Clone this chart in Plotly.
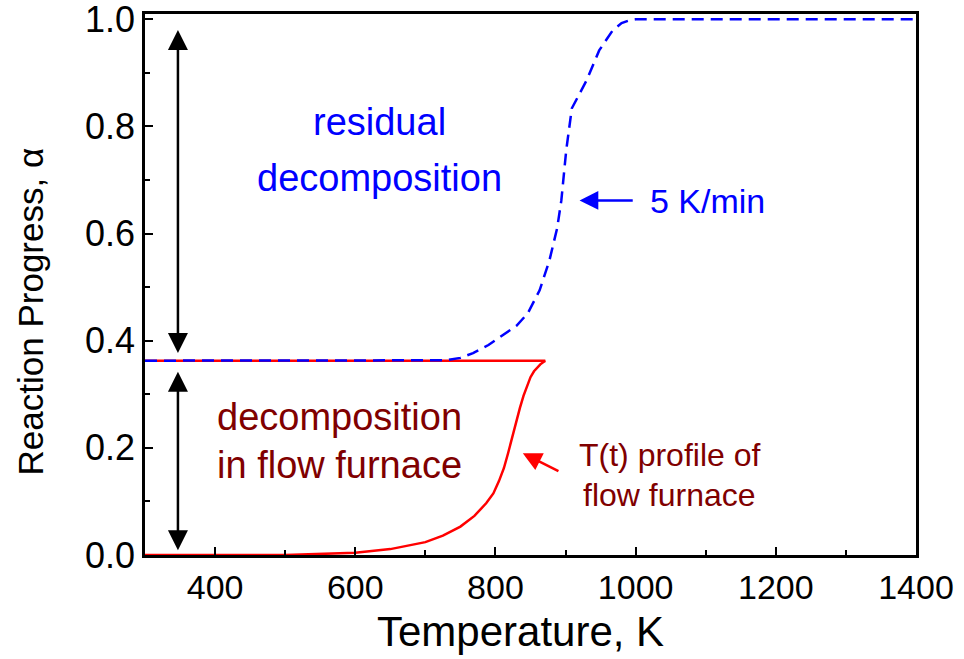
import plotly.graph_objects as go

# Flow furnace T(t) profile curve
T_furnace = [300, 500, 600, 650, 700, 725, 750, 770, 787, 797, 805, 812, 818, 824, 830, 835, 840, 845, 850, 855, 860, 864, 868, 871, 866, 855, 800, 300]
alpha_furnace = [0.0, 0.0, 0.004, 0.011, 0.024, 0.036, 0.053, 0.073, 0.097, 0.115, 0.138, 0.162, 0.19, 0.222, 0.252, 0.275, 0.297, 0.316, 0.332, 0.343, 0.351, 0.356, 0.36, 0.3625, 0.3628, 0.3628, 0.3628, 0.3628]

# 5 K/min curve
T_5K = [300, 700, 730, 750, 768, 790, 810, 830, 846, 863, 877, 888, 894, 901, 909, 920, 930, 948, 967, 980, 991, 1000, 1400]
alpha_5K = [0.3628, 0.3628, 0.3635, 0.368, 0.377, 0.392, 0.41, 0.428, 0.451, 0.494, 0.55, 0.61, 0.662, 0.756, 0.834, 0.86, 0.886, 0.942, 0.979, 0.993, 0.998, 1.0, 1.0]

x_ticks = [400, 600, 800, 1000, 1200, 1400]
y_ticks = [0.0, 0.2, 0.4, 0.6, 0.8, 1.0]

FONT = "Liberation Sans"
BLUE = "#0000FF"
DARKRED = "#800000"
RED = "#FF0000"

fig = go.Figure()
fig.add_trace(go.Scatter(x=T_furnace, y=alpha_furnace, mode="lines",
                         line=dict(color=RED, width=2.5), showlegend=False))
fig.add_trace(go.Scatter(x=T_5K, y=alpha_5K, mode="lines",
                         line=dict(color=BLUE, width=2.5, dash="12px,7px"), showlegend=False))

axis_common = dict(showline=True, linecolor="black", linewidth=2.5, mirror=True,
                   ticks="inside", tickcolor="black", tickwidth=2, ticklen=8,
                   showgrid=False, zeroline=False, automargin=False,
                   ticklabeloverflow="allow")

fig.update_xaxes(range=[300, 1400], tickvals=x_ticks, ticktext=[str(v) for v in x_ticks],
                 minor=dict(dtick=100, ticks="inside", ticklen=5, tickwidth=2, tickcolor="black", showgrid=False),
                 tickfont=dict(family=FONT, size=34, color="black"),
                 **axis_common)
fig.update_yaxes(range=[0, 1.01], tickvals=y_ticks, ticktext=[f"{v:.1f}" for v in y_ticks],
                 minor=dict(dtick=0.1, ticks="inside", ticklen=5, tickwidth=2, tickcolor="black", showgrid=False),
                 tickfont=dict(family=FONT, size=36, color="black"),
                 **axis_common)

ann = []
# axis titles
ann.append(dict(x=0.487, y=-0.142, xref="paper", yref="paper", text="Temperature, K", showarrow=False,
                xanchor="center", yanchor="middle", font=dict(family=FONT, size=42, color="black")))
ann.append(dict(x=-0.148, y=0.45, xref="paper", yref="paper", text="Reaction Progress, α", showarrow=False,
                textangle=-90, xanchor="center", yanchor="middle", font=dict(family=FONT, size=35, color="black")))
# double arrows
for y0, y1 in [(0.983, 0.377), (0.345, 0.009)]:
    ann.append(dict(x=347, y=y1, ax=347, ay=y0, xref="x", yref="y", axref="x", ayref="y",
                    text="", showarrow=True, arrowhead=2, startarrowhead=2, arrowside="end+start",
                    arrowsize=1.6, startarrowsize=1.6, arrowwidth=2.5, arrowcolor="black"))
# blue arrow
ann.append(dict(x=920, y=0.662, ax=998, ay=0.662, xref="x", yref="y", axref="x", ayref="y",
                text="", showarrow=True, arrowhead=2, arrowsize=1.5, arrowwidth=2.5, arrowcolor=BLUE))
# red arrow
ann.append(dict(x=839, y=0.19, ax=892, ay=0.155, xref="x", yref="y", axref="x", ayref="y",
                text="", showarrow=True, arrowhead=2, arrowsize=1.5, arrowwidth=2.5, arrowcolor=RED))

texts = [
    ("residual", 635, 0.808, BLUE, 38, "center"),
    ("decomposition", 635, 0.703, BLUE, 38, "center"),
    ("decomposition", 578, 0.257, DARKRED, 38, "center"),
    ("in flow furnace", 578, 0.168, DARKRED, 38, "center"),
    ("T(t) profile of", 1048, 0.187, DARKRED, 32, "center"),
    ("flow furnace", 1048, 0.112, DARKRED, 32, "center"),
    ("5 K/min", 1017, 0.66, BLUE, 34, "left"),
]
for t, x, y, c, s, xa in texts:
    ann.append(dict(x=x, y=y, xref="x", yref="y", text=t, showarrow=False, xanchor=xa, yanchor="middle",
                    font=dict(family=FONT, size=s, color=c)))

fig.update_layout(width=964, height=659, margin=dict(l=145, r=48, t=14, b=104),
                  plot_bgcolor="white", paper_bgcolor="white", annotations=ann)

fig.write_html("out.html")
